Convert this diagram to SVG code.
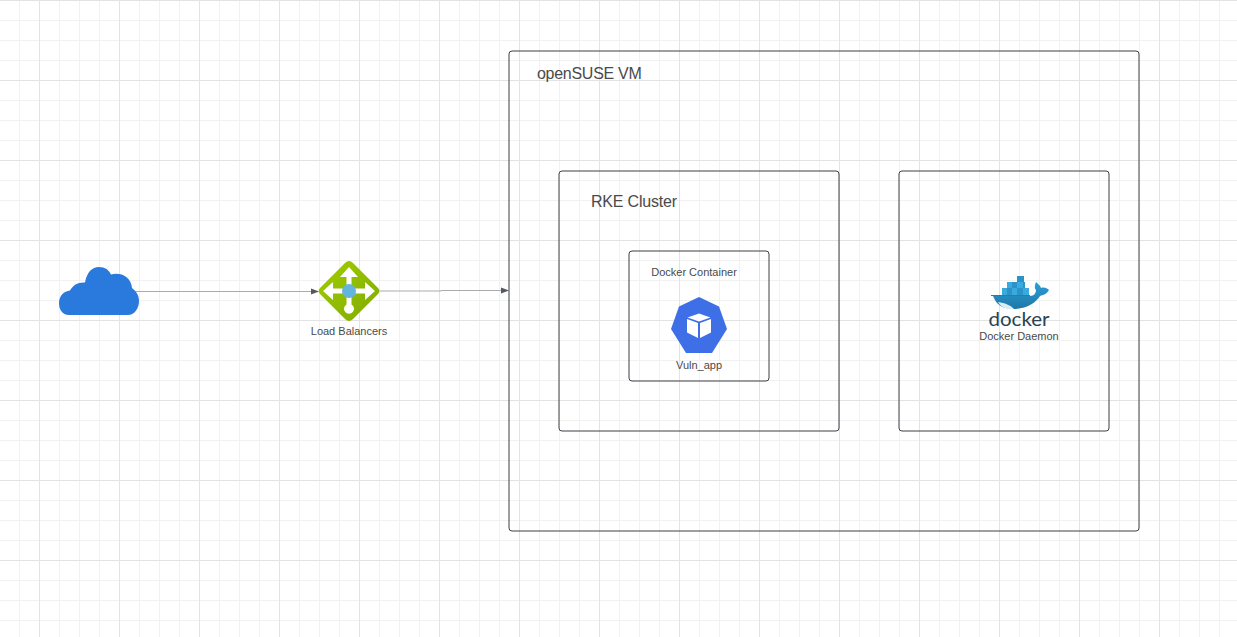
<svg xmlns="http://www.w3.org/2000/svg" width="1237" height="637" viewBox="0 0 1237 637">
<style>
.t{font-family:"Liberation Sans",Arial,sans-serif;fill:#4a4a4a}
.box{fill:none;stroke:#3c3f45;stroke-width:1}
.c{fill:none;stroke:#a9abaf;stroke-width:1}
.a{fill:#55585e}
.d1{fill:#3aa9dd}
.d2{fill:#2c93c9}
</style>
<defs>
<pattern id="g" width="80" height="80" patternUnits="userSpaceOnUse" x="-41" y="0">
<path d="M20.5 0V80M40.5 0V80M60.5 0V80M0 20.5H80M0 40.5H80M0 60.5H80" fill="none" stroke="#f1f1f1" stroke-width="1"/>
<path d="M0.5 0V80M0 0.5H80" fill="none" stroke="#e3e3e3" stroke-width="1"/>
</pattern>
<linearGradient id="lb" x1="0" y1="0" x2="1" y2="1"><stop offset="0" stop-color="#a2cf00"/><stop offset="1" stop-color="#7fa900"/></linearGradient>
<linearGradient id="dk" x1="0" y1="0" x2="0" y2="1"><stop offset="0" stop-color="#2a9fd8"/><stop offset="1" stop-color="#1f78a8"/></linearGradient>
</defs>
<rect width="1237" height="637" fill="#fff"/>
<rect width="1237" height="637" fill="url(#g)"/>
<g id="connectors">
<path class="c" d="M135 291.500H312"/><path class="a" d="M311 288.500L319 291.500L311 294.500Z"/>
<path class="c" d="M380 291H441V290.500H502"/><path class="a" d="M501 287.500L509 290.500L501 293.500Z"/>
</g>
<g id="vm"><rect class="box" x="509" y="51" width="630" height="480" rx="3"/>
<text class="t" x="537" y="79" font-size="16" letter-spacing="-.28">openSUSE VM</text></g>
<g id="rke"><rect class="box" x="559" y="171" width="280" height="260" rx="3"/>
<text class="t" x="591" y="207" font-size="16" letter-spacing="-.2">RKE Cluster</text></g>
<g id="daemon-box"><rect class="box" x="899" y="171" width="210" height="260" rx="3"/></g>
<g id="container"><rect class="box" x="629" y="251" width="140" height="130" rx="3"/>
<text class="t" x="694" y="276" font-size="11" text-anchor="middle">Docker Container</text></g>
<g id="internet">
<path fill="#2a7ade" d="M69 315C62 315 59 309 59 303C59 296 64 291 70 290.500C73 285 78 282 85 282.500C87 272 92 267 99 267C105 267 109 270 111 274.500C120 272 131 276 132 288C136 291 139 295 139 301C139 309 134 315 128 315Z"/>
</g>
<g id="lb-node">
<path fill="url(#lb)" d="M345 263Q349 259 353 263L378 288Q381 291 378 294L353 319Q349 323 345 319L320 294Q317 291 320 288Z"/>
<path fill="#fff" d="M349 267L358 277H351.500V288.500H365V282L375 291L365 300V293.500H351.500V304.400A5 5 0 1 1 346.500 304.400V293.500H333V300L323 291L333 282V288.500H346.500V277H340Z"/>
<circle cx="349" cy="291" r="7" fill="#63b5dd"/>
<text class="t" x="349" y="335" font-size="11" text-anchor="middle">Load Balancers</text>
</g>
<g id="vuln-app">
<path fill="#3f6fe6" d="M699 297L719 306.500L727 329L712 353H686L671 329L679 306.500Z"/>
<path fill="#fff" d="M699 313.500L710.500 317.500L699 321.500L687.500 317.500Z"/>
<path fill="#fff" d="M687 319L698 323V338L687 332.500Z"/>
<path fill="#fff" d="M711 319L700 323V338L711 332.500Z"/>
<text class="t" x="699" y="369" font-size="11" text-anchor="middle">Vuln_app</text>
</g>
<g id="docker">
<rect class="d1" x="1002" y="288" width="5" height="7"/><rect class="d2" x="1007" y="288" width="5" height="7"/>
<rect class="d1" x="1012" y="288" width="5" height="7"/><rect class="d2" x="1017" y="288" width="6" height="7"/><rect class="d1" x="1023" y="288" width="6" height="7"/>
<rect class="d1" x="1007" y="282" width="5" height="6"/><rect class="d2" x="1012" y="282" width="5" height="6"/><rect class="d1" x="1017" y="282" width="6" height="6"/><rect class="d2" x="1023" y="282" width="2" height="6"/>
<rect class="d2" x="1017" y="276" width="7" height="6"/>
<path fill="none" stroke="#2b4a58" stroke-width=".8" d="M991 295.500H1030"/>
<path fill="url(#dk)" d="M993 296H1030C1034 296 1036 293 1036 290C1034 288 1035 285 1036 282C1038 284 1040 285 1041 288C1044 287 1047 288 1049 290C1047 294 1043 295 1040 296C1036 303 1026 309 1013 309C1002 309 996 304 993 296Z"/>
<path fill="#d9eef7" d="M998 302C1005 303 1010 305 1014 309C1006 310 1001 307 998 302Z"/>
<text x="1019" y="326" font-family="Lato,'Liberation Sans',sans-serif" font-size="20" fill="#2a4350" text-anchor="middle" textLength="61" lengthAdjust="spacingAndGlyphs">docker</text>
<text class="t" x="1019" y="340" font-size="11" text-anchor="middle">Docker Daemon</text>
</g>
</svg>
